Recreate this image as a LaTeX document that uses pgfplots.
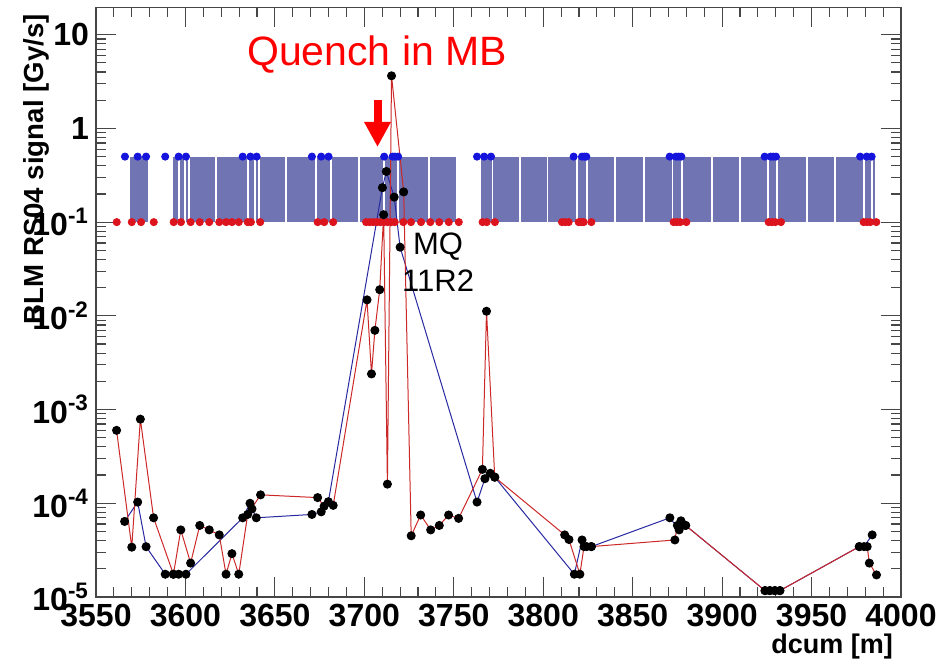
\documentclass[border=0pt]{standalone}
\usepackage{fontspec}
\setmainfont{Liberation Sans}
\usepackage{pgfplots}
\pgfplotsset{compat=1.18}
\usetikzlibrary{arrows.meta}

\definecolor{bandfill}{RGB}{112,116,178}
\definecolor{redline}{RGB}{205,40,40}
\definecolor{blueline}{RGB}{40,40,160}
\definecolor{dotred}{RGB}{220,20,30}
\definecolor{dotblue}{RGB}{20,20,220}
\definecolor{frame}{RGB}{70,70,70}

\begin{document}
\begin{tikzpicture}
\begin{axis}[
    scale only axis, width=402.5pt, height=294.85pt,
    xmin=3550, xmax=4000,
    ymode=log, ymin=1e-5, ymax=19.6,
    xtick={3550,3600,3650,3700,3750,3800,3850,3900,3950,4000},
    xticklabels={3550,3600,3650,3700,3750,3800,3850,3900,3950,4000},
    minor x tick num=4,
    ytick={1e-5,1e-4,1e-3,1e-2,1e-1,1,10},
    yticklabels={10\textsuperscript{-5},10\textsuperscript{-4},10\textsuperscript{-3},10\textsuperscript{-2},10\textsuperscript{-1},1,10},
    minor ytick={2e-5,3e-5,4e-5,5e-5,6e-5,7e-5,8e-5,9e-5,
                 2e-4,3e-4,4e-4,5e-4,6e-4,7e-4,8e-4,9e-4,
                 2e-3,3e-3,4e-3,5e-3,6e-3,7e-3,8e-3,9e-3,
                 0.02,0.03,0.04,0.05,0.06,0.07,0.08,0.09,
                 0.2,0.3,0.4,0.5,0.6,0.7,0.8,0.9,
                 2,3,4,5,6,7,8,9},
    tick label style={font=\fontsize{16}{17}\selectfont\bfseries},
    major tick length=10pt, minor tick length=5pt,
    axis line style={frame, line width=0.75pt},
    tick style={frame, line width=0.6pt},
    clip=false,
]

% blue band between 0.1 and 0.5
\addplot[fill=bandfill, draw=none] coordinates {(3569.2,0.1)(3569.2,0.5)(3578.9,0.5)(3578.9,0.1)} -- cycle;
\addplot[fill=bandfill, draw=none] coordinates {(3592.9,0.1)(3592.9,0.5)(3751.2,0.5)(3751.2,0.1)} -- cycle;
\addplot[fill=bandfill, draw=none] coordinates {(3765.2,0.1)(3765.2,0.5)(3985.6,0.5)(3985.6,0.1)} -- cycle;

\pgfplotsinvokeforeach{3596.2,3599.9,3601.8,3617.1,3634.8,3639.1,3641.3,3656.2,3673,3681.4,3697.2,3711.2,3718.6,3736.3,3771.7,3786.8,3802.4,3818.9,3824.5,3840.3,3856.2,3872.3,3877.6,3894.3,3909.8,3925.5,3930.7,3947.4,3963.2,3979.1,3983.8}{
  \addplot[white, line width=0.9pt] coordinates {(#1,0.1)(#1,0.5)};
}

% monitor positions
\addplot[only marks, mark=*, mark size=1.8pt, dotblue] coordinates {
(3566.2,0.5)(3573.3,0.5)(3578,0.5)(3588.7,0.5)(3596.2,0.5)(3600.3,0.5)
(3632,0.5)(3636.3,0.5)(3639.8,0.5)(3670.7,0.5)(3675.9,0.5)(3680,0.5)
(3711.1,0.5)(3715.8,0.5)(3717.2,0.5)(3718.9,0.5)(3763,0.5)(3767,0.5)(3770.8,0.5)
(3817,0.5)(3821.7,0.5)(3823,0.5)(3824.1,0.5)(3870.7,0.5)(3874.2,0.5)(3875.7,0.5)(3877.2,0.5)
(3923.8,0.5)(3927.1,0.5)(3928.6,0.5)(3930.1,0.5)(3977.2,0.5)(3980.8,0.5)(3983.6,0.5)
};
\addplot[only marks, mark=*, mark size=1.8pt, dotred] coordinates {
(3561.6,0.1)(3570,0.1)(3575.2,0.1)(3582.3,0.1)(3593.4,0.1)(3597.5,0.1)(3602.9,0.1)
(3608,0.1)(3613.3,0.1)(3618.9,0.1)(3622.7,0.1)(3626,0.1)(3629.8,0.1)(3634.8,0.1)
(3636.6,0.1)(3641.8,0.1)(3673.9,0.1)(3677.6,0.1)(3682.6,0.1)
(3701,0.1)(3703,0.1)(3705,0.1)(3707,0.1)(3709,0.1)(3711,0.1)(3713,0.1)(3715,0.1)(3717,0.1)
(3721.8,0.1)(3726.1,0.1)(3731.7,0.1)(3736.9,0.1)(3741.9,0.1)(3747.2,0.1)(3752.8,0.1)
(3766.1,0.1)(3768.4,0.1)(3773,0.1)(3810.5,0.1)(3812.3,0.1)(3814.2,0.1)(3819.8,0.1)
(3821.2,0.1)(3822.6,0.1)(3826.9,0.1)(3872.9,0.1)(3874.7,0.1)(3876.6,0.1)(3880,0.1)
(3926,0.1)(3927.8,0.1)(3929.7,0.1)(3932.9,0.1)(3979.1,0.1)(3981,0.1)(3982.8,0.1)(3986.2,0.1)
};

% blue signal
\addplot[blueline, line width=0.5pt, mark=*, mark size=2pt, mark options={black, fill=black}] coordinates {
(3566.0,6.4e-5)(3573.3,1.03e-4)(3578.0,3.44e-5)(3588.7,1.75e-5)(3593.2,1.75e-5)
(3596.2,1.75e-5)(3600.3,1.75e-5)(3632.0,7.0e-5)(3636.1,1.0e-4)(3637.2,8.7e-5)
(3639.6,7.0e-5)(3670.7,7.6e-5)(3675.9,8.1e-5)(3679.9,1.04e-4)(3710.1,0.233)
(3712.3,0.347)(3716.7,0.185)(3720.0,0.054)(3763.0,1.03e-4)(3767.4,1.83e-4)
(3770.4,2.09e-4)(3772.9,1.9e-4)(3817.4,1.75e-5)(3821.7,4.06e-5)(3824.3,3.45e-5)
(3826.9,3.45e-5)(3870.8,7.0e-5)(3876.0,5.2e-5)(3879.6,5.8e-5)(3924.0,1.17e-5)
(3926.7,1.17e-5)(3929.5,1.17e-5)(3932.3,1.17e-5)(3976.7,3.45e-5)(3979.3,3.45e-5)
(3983.9,4.6e-5)
};

% red signal
\addplot[redline, line width=0.5pt, mark=*, mark size=2pt, mark options={black, fill=black}] coordinates {
(3561.5,6.0e-4)(3570.0,3.4e-5)(3574.8,7.9e-4)(3582.2,7.0e-5)(3593.3,1.75e-5)
(3597.4,5.2e-5)(3602.9,2.3e-5)(3608.0,5.8e-5)(3613.3,5.2e-5)(3618.9,4.6e-5)
(3622.7,1.75e-5)(3626.0,2.9e-5)(3629.8,1.75e-5)(3634.8,7.6e-5)(3642.0,1.23e-4)
(3673.9,1.15e-4)(3677.5,9.3e-5)(3682.6,9.5e-5)(3701.5,0.0148)(3704.0,2.4e-3)
(3705.9,7.0e-3)(3708.6,0.019)(3710.8,0.12)(3712.9,1.6e-4)(3715.2,3.64)
(3722.0,0.21)(3726.2,4.5e-5)(3731.5,7.5e-5)(3737.1,5.2e-5)(3741.9,5.8e-5)
(3747.1,7.5e-5)(3752.7,6.9e-5)(3766.0,2.3e-4)(3768.3,0.0112)(3772.9,1.9e-4)
(3812.0,4.6e-5)(3814.4,4.1e-5)(3820.5,1.75e-5)(3822.8,3.45e-5)(3826.9,3.45e-5)
(3873.6,4.06e-5)(3875.0,5.8e-5)(3877.0,6.5e-5)(3879.6,5.8e-5)(3924.0,1.17e-5)
(3926.7,1.17e-5)(3929.5,1.17e-5)(3932.3,1.17e-5)(3976.7,3.45e-5)(3981.1,3.45e-5)
(3982.3,2.3e-5)(3986.3,1.72e-5)
};

% annotations
\node[anchor=base, text=red, font=\fontsize{20.5}{22}\selectfont] at (rel axis cs:0.3491,0.9021) {Quench in MB};
\draw[red, line width=4pt, -{Triangle[width=12.5pt,length=12.5pt]}] (rel axis cs:0.3497,0.8428) -- (rel axis cs:0.3497,0.7631);
\node[anchor=base, font=\fontsize{15.5}{16}\selectfont] at (rel axis cs:0.425,0.58) {MQ};
\node[anchor=base, font=\fontsize{15.5}{16}\selectfont] at (rel axis cs:0.425,0.5177) {11R2};

% axis titles
\node[rotate=90, anchor=base east, font=\fontsize{13.8}{14}\selectfont\bfseries] at (rel axis cs:-0.0658,1.0) {BLM RS04 signal [Gy/s]};
\node[anchor=base east, font=\fontsize{13.5}{14}\selectfont\bfseries] at (rel axis cs:0.9988,-0.0950) {dcum [m]};

% page frame
\path (rel axis cs:-0.11925,-0.12549) rectangle (rel axis cs:1.05466,1.01238);
\end{axis}
\end{tikzpicture}
\end{document}
